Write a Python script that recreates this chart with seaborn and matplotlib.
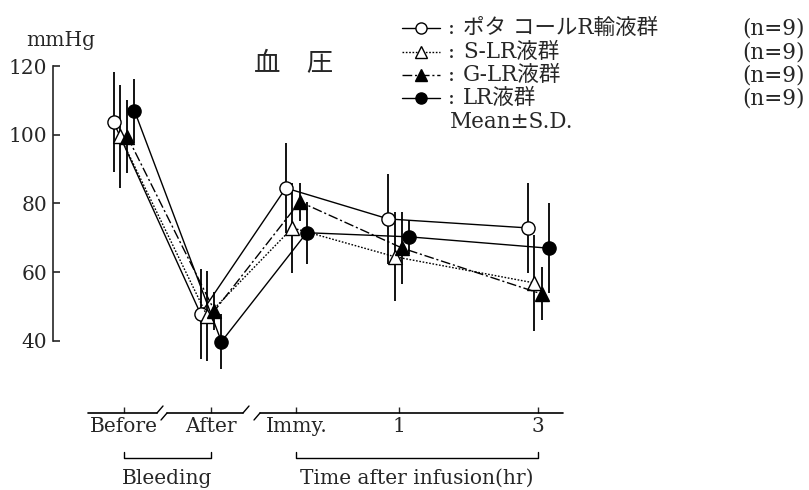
import numpy as np
import pandas as pd
import matplotlib
matplotlib.use('Agg')
import matplotlib.pyplot as plt
import seaborn as sns
from matplotlib.lines import Line2D

sns.set_style('white')
plt.rcParams['font.family'] = ['DejaVu Serif', 'Noto Sans CJK JP']

# time points (x axis is not evenly spaced in the original)
time_labels = ['Before', 'After', 'Immy.', '1', '3']
x_pos = [0.0, 1.0, 1.98, 3.16, 4.76]

groups = ['ポタ コールR輸液群', 'S-LR液群', 'G-LR液群', 'LR液群']
n_sizes = [9, 9, 9, 9]

mean_potacol = [103.7, 47.9, 84.5, 75.5, 72.9]
sd_potacol = [14.6, 13.0, 13.0, 13.0, 13.0]
mean_slr = [99.5, 47.3, 72.9, 64.5, 56.9]
sd_slr = [15.0, 13.0, 13.0, 13.0, 14.0]
mean_glr = [99.4, 48.8, 80.5, 67.0, 53.7]
sd_glr = [10.6, 5.5, 5.6, 10.5, 7.7]
mean_lr = [107.0, 39.8, 71.5, 70.3, 67.0]
sd_lr = [9.3, 8.0, 9.0, 5.0, 13.0]

means = [mean_potacol, mean_slr, mean_glr, mean_lr]
sds = [sd_potacol, sd_slr, sd_glr, sd_lr]

# drawing styles per group
dodge = [-0.12, -0.045, 0.04, 0.12]
marker_list = ['o', '^', '^', 'o']
face_list = ['white', 'white', 'black', 'black']
dash_list = [(None, None), (1.2, 1.2), (7, 2, 1.5, 2), (None, None)]

rows = []
for g, m, s, d in zip(groups, means, sds, dodge):
    for xp, mv, sv in zip(x_pos, m, s):
        rows.append({'group': g, 'x': xp + d, 'mean': mv, 'sd': sv})
df = pd.DataFrame(rows)

W, H = 809, 490
fig = plt.figure(figsize=(W / 100, H / 100), dpi=100)

# axes box in pixels: left 53, right 570, top 66 (=120), bottom 413
ax = fig.add_axes([53 / W, 1 - 413 / H, (570 - 53) / W, (413 - 66) / H])
ppu = 3.4375  # pixels per mmHg
y_base = 120 - (413 - 66) / ppu
ax.set_ylim(y_base, 120)
ax.set_xlim((53 - 124) / 87, (570 - 124) / 87)


def ypx(p):
    return 120 - (p - 66) / ppu


for i, g in enumerate(groups):
    sub = df[df['group'] == g]
    ax.vlines(sub['x'], sub['mean'] - sub['sd'], sub['mean'] + sub['sd'],
              color='black', lw=1.3, zorder=2)
    kw = dict(color='black', lw=1.0, marker=marker_list[i], markersize=9.5,
              markerfacecolor=face_list[i], markeredgecolor='black',
              markeredgewidth=1.0, zorder=3)
    if dash_list[i][0] is not None:
        kw['dashes'] = dash_list[i]
    sns.lineplot(data=sub, x='x', y='mean', ax=ax, errorbar=None,
                 sort=False, legend=False, **kw)

# spines / ticks
for side in ['top', 'right', 'bottom']:
    ax.spines[side].set_visible(False)
ax.spines['left'].set_bounds(40, 120)
ax.spines['left'].set_linewidth(1.2)
ax.set_yticks([40, 60, 80, 100, 120])
ax.tick_params(axis='y', direction='in', length=5, width=1.2, pad=4,
               labelsize=14.5, left=True)
ax.set_xticks(x_pos)
ax.set_xticklabels(time_labels)
ax.tick_params(axis='x', direction='in', length=4.3, width=1.0, pad=3,
               labelsize=14.5, bottom=True)
ax.set_xlabel('')
ax.set_ylabel('')
ax.grid(False)

# broken x axis line
def px2x(p):
    return (p - 124) / 87

lw_ax = 1.2
segs = [(88, 157), (167, 243), (260, 563)]
for a, b in segs:
    ax.plot([px2x(a), px2x(b)], [y_base, y_base], color='black', lw=lw_ax, clip_on=False)
for a in [157, 243]:
    ax.plot([px2x(a), px2x(a + 6)], [y_base, ypx(406)], color='black', lw=1.0, clip_on=False)
for b in [167, 260]:
    ax.plot([px2x(b - 6), px2x(b)], [ypx(420), y_base], color='black', lw=1.0, clip_on=False)

# brackets below tick labels
yb, yt = ypx(458), ypx(452)
for x0, x1, lab in [(x_pos[0], x_pos[1], 'Bleeding'),
                    (x_pos[2], x_pos[4], 'Time after infusion(hr)')]:
    ax.plot([x0, x0, x1, x1], [yt, yb, yb, yt], color='black', lw=1.0, clip_on=False)
    ax.text((x0 + x1) / 2, ypx(478), lab, ha='center', va='center', fontsize=14.5)

ax.text(px2x(61), ypx(41), 'mmHg', ha='center', va='center', fontsize=14.5)
ax.text(px2x(294), ypx(64), '血\u3000圧', ha='center', va='center', fontsize=19)

# custom legend in figure pixel coordinates
def fx(p):
    return p / W


def fy(p):
    return 1 - p / H


row_y = [28, 52, 75, 98]
for i, g in enumerate(groups):
    y = fy(row_y[i])
    ln = Line2D([fx(402), fx(440)], [y, y], color='black', lw=1.0,
                transform=fig.transFigure)
    if dash_list[i][0] is not None:
        ln.set_dashes(dash_list[i])
    fig.add_artist(ln)
    mk = Line2D([fx(421)], [y], marker=marker_list[i], markersize=8,
                markerfacecolor=face_list[i], markeredgecolor='black',
                markeredgewidth=1.0, transform=fig.transFigure)
    fig.add_artist(mk)
    fig.text(fx(448), y, ':', ha='left', va='center', fontsize=15)
    fig.text(fx(463), y, g, ha='left', va='center', fontsize=15.5)
    fig.text(fx(805), y, f'(n={n_sizes[i]})', ha='right', va='center', fontsize=15.5)
fig.text(fx(450), fy(122), 'Mean±S.D.', ha='left', va='center', fontsize=15.5)

fig.savefig('out.png', dpi=100)
